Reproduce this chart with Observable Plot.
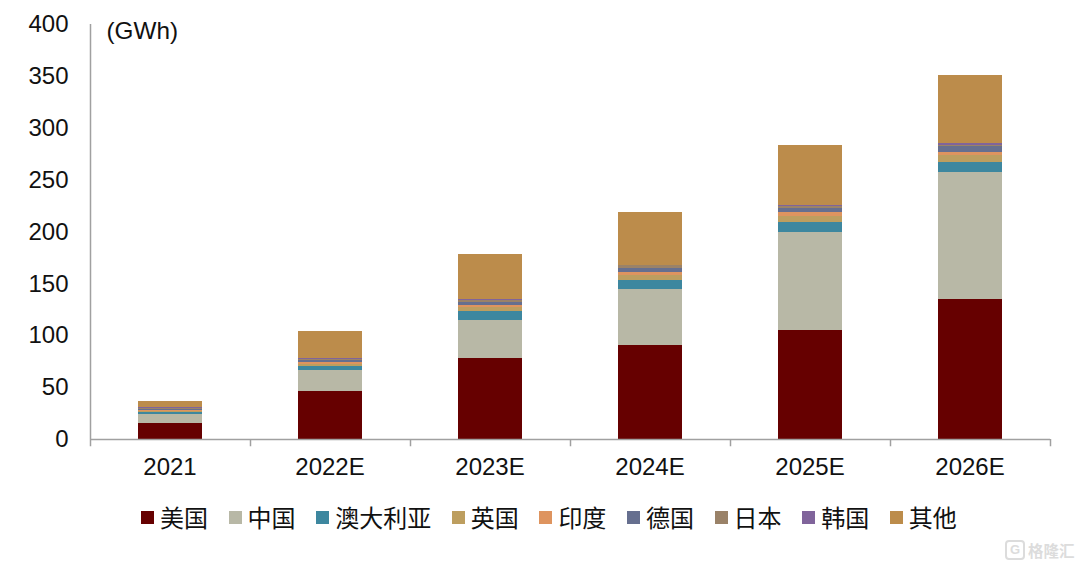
<!DOCTYPE html>
<html><head><meta charset="utf-8">
<script src="https://cdn.jsdelivr.net/npm/d3@7"></script>
<script src="https://cdn.jsdelivr.net/npm/@observablehq/plot@0.6"></script>
<style>
html,body{margin:0;padding:0;background:#fff;width:1080px;height:567px;overflow:hidden;position:relative}
#legend{position:absolute;left:141px;top:502px;height:30px;display:flex;gap:20.6px;font:24px "Noto Sans CJK SC",sans-serif;color:#111;line-height:30px;white-space:nowrap}
#legend .i{display:flex;align-items:center}
#legend .s{width:13px;height:13px;margin-right:6px;display:inline-block}
#wm{position:absolute;left:1005px;top:540px;display:flex;align-items:center;gap:3px;color:#dcdcdc;font:700 15.5px "Noto Sans CJK SC",sans-serif;line-height:20px}
#wm b{display:inline-block;width:16px;height:16px;border:2px solid #dcdcdc;border-radius:4px;font:700 13px/16px "Liberation Sans";text-align:center}
</style></head><body>
<div id="chart"></div><div id="legend"></div>
<div id="wm"><b>G</b><span>格隆汇</span></div>
<script>
const years = ["2021","2022E","2023E","2024E","2025E","2026E"];
const seriesNames = ["美国","中国","澳大利亚","英国","印度","德国","日本","韩国","其他"];
const colors = ["#660000","#B8B8A6","#3D879F","#BD9E5F","#DE945F","#666F8F","#9A8268","#80649B","#BC8C4B"];
const us = [15.7,46,78,91,105,135];
const china = [8.3,20.5,37,54,95,122.6];
const australia = [2,3.5,8.5,8.5,9.2,9.4];
const uk = [1,2.5,4,4.5,6.2,6.4];
const india = [0.6,1.5,2,3.3,3.2,3.2];
const germany = [1.5,2.5,3,4,4.1,5.4];
const japan = [1.2,1,1.5,2,1.5,1.5];
const korea = [0.5,0.5,0.5,0.7,1.2,1.5];
const others = [6.2,26,44,51,58,66];
const seriesValues = [us,china,australia,uk,india,germany,japan,korea,others];
const yTicks = [0,50,100,150,200,250,300,350,400];

const rows = seriesNames.flatMap((name,i)=>years.map((year,j)=>({year,name,value:seriesValues[i][j]})));
const axisColor = "#a0a0a0";
const chart = Plot.plot({
  width:1080,height:500,marginLeft:90,marginRight:30,marginTop:24,marginBottom:61,
  style:{fontFamily:'"Liberation Sans",Arial,sans-serif',fontSize:"24px",color:"#111",background:"#fff"},
  x:{domain:years,paddingInner:0.6,paddingOuter:0.3,label:null},
  y:{domain:[0,400],label:null},
  color:{domain:seriesNames,range:colors},
  marks:[
    Plot.barY(rows,{x:"year",y:"value",z:"name",fill:"name",order:null,shapeRendering:"crispEdges"}),
    Plot.axisY({ticks:yTicks,tickSize:0,tickPadding:22,tickFormat:d=>d,label:null,fontSize:24}),
    Plot.axisX({tickSize:0,tickPadding:18,label:null,fontSize:24,dx:-0.5}),
    Plot.ruleX([0],{x:()=>years[0],y1:0,y2:400,dx:-80,stroke:axisColor,strokeWidth:1.5}),
    Plot.ruleY([0],{stroke:axisColor,strokeWidth:1.5}),
    Plot.ruleX(years,{x:d=>d,y1:0,y2:-7,dx:-80,stroke:axisColor,strokeWidth:1.5}),
    Plot.ruleX(years.slice(-1),{x:d=>d,y1:0,y2:-7,dx:80,stroke:axisColor,strokeWidth:1.5}),
    Plot.text(["(GWh)"],{frameAnchor:"top-left",dx:16,dy:-3,text:d=>d,fontSize:24.3,textAnchor:"start",fill:"#111"})
  ]
});
document.getElementById("chart").appendChild(chart);
const lg = document.getElementById("legend");
seriesNames.forEach((n,i)=>{
  const it=document.createElement("span");it.className="i";
  const s=document.createElement("span");s.className="s";s.style.background=colors[i];
  const t=document.createElement("span");t.textContent=n;
  it.append(s,t);lg.append(it);
});
</script></body></html>
